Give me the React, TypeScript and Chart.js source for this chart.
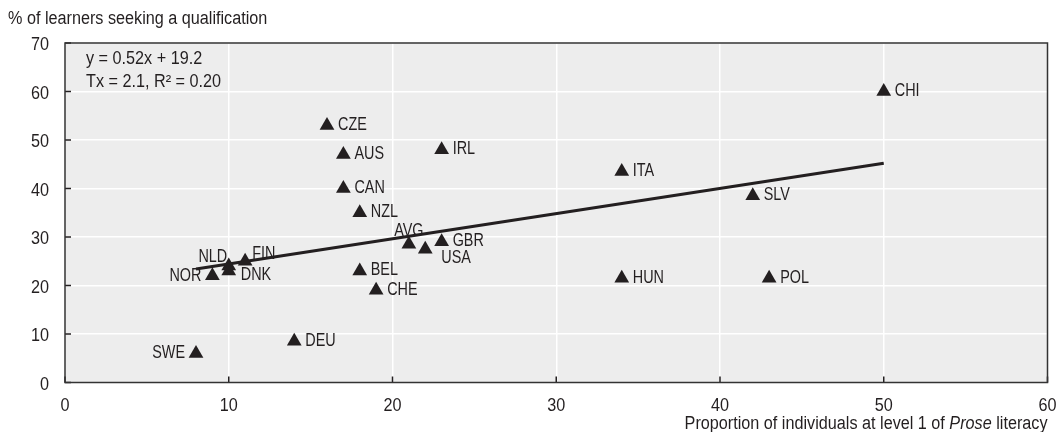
import React, { useEffect, useRef } from "react";
import { Chart, registerables } from "chart.js";

Chart.register(...registerables);

const countries = ["SWE", "DEU", "NOR", "NLD", "DNK", "FIN", "BEL", "CHE", "CZE", "AUS", "CAN", "NZL", "IRL", "AVG", "USA", "GBR", "ITA", "HUN", "SLV", "POL", "CHI"];
const levelOneProse = [8, 14, 9, 10, 10, 11, 18, 19, 16, 17, 17, 18, 23, 21, 22, 23, 34, 34, 42, 43, 50];
const seekingQualification = [6, 8.5, 22, 24, 23, 25, 23, 19, 53, 47, 40, 35, 48, 28.5, 27.5, 29, 43.5, 21.5, 38.5, 21.5, 60];
const trendX = [8, 50];
const trendY = [23.4, 45.2];
const xTickValues = [0, 10, 20, 30, 40, 50, 60];
const yTickValues = [0, 10, 20, 30, 40, 50, 60, 70];
const equationLines = ["y = 0.52x + 19.2", "Tx = 2.1, R² = 0.20"];
const yTitle = "% of learners seeking a qualification";
const xTitleParts = [
  { text: "Proportion of individuals at level 1 of ", italic: false },
  { text: "Prose", italic: true },
  { text: " literacy", italic: false },
];

const FONT = '"Liberation Sans", Arial, sans-serif';
const INK = "#231f20";
const CAP = 6.5; // half cap height at 18px

// label placement (style only): dx, dy (cap centre), align
const labelPlacement: Record<string, [number, number, CanvasTextAlign]> = {
  SWE: [-11, -2, "right"],
  NOR: [-11, -1, "right"],
  NLD: [-1.5, -11, "right"],
  DNK: [12, 3, "left"],
  FIN: [7, -9, "left"],
  AVG: [0, -15, "center"],
  USA: [16, 7, "left"],
  GBR: [11, -2, "left"],
};

function drawText(
  ctx: CanvasRenderingContext2D,
  text: string,
  x: number,
  y: number,
  align: CanvasTextAlign,
  sx: number,
  italic = false
) {
  ctx.save();
  ctx.font = `${italic ? "italic " : ""}18px ${FONT}`;
  ctx.textAlign = align;
  ctx.textBaseline = "alphabetic";
  ctx.translate(x, y);
  ctx.scale(sx, 1);
  ctx.fillText(text, 0, 0);
  ctx.restore();
}

function textWidth(ctx: CanvasRenderingContext2D, text: string, sx: number, italic = false) {
  ctx.save();
  ctx.font = `${italic ? "italic " : ""}18px ${FONT}`;
  const w = ctx.measureText(text).width * sx;
  ctx.restore();
  return w;
}

const SX_TEXT = 0.9;
const SX_LABEL = 0.8;

const decorPlugin = {
  id: "decor",
  beforeDraw(chart: any) {
    const { ctx, chartArea: a } = chart;
    ctx.save();
    ctx.fillStyle = "#ededed";
    ctx.fillRect(a.left, a.top, a.right - a.left, a.bottom - a.top);
    ctx.restore();
  },
  afterDraw(chart: any) {
    const { ctx, chartArea: a } = chart;
    const xs = chart.scales.x;
    const ys = chart.scales.y;
    ctx.save();
    ctx.fillStyle = INK;
    // inward ticks
    ctx.strokeStyle = INK;
    ctx.lineWidth = 1.5;
    xTickValues.forEach((v) => {
      const px = xs.getPixelForValue(v);
      ctx.beginPath();
      ctx.moveTo(px, a.bottom);
      ctx.lineTo(px, a.bottom - 6);
      ctx.stroke();
      drawText(ctx, String(v), px, a.bottom + 28, "center", SX_TEXT);
    });
    yTickValues.forEach((v) => {
      const py = ys.getPixelForValue(v);
      ctx.beginPath();
      ctx.moveTo(a.left, py);
      ctx.lineTo(a.left + 6, py);
      ctx.stroke();
      drawText(ctx, String(v), 49, py + CAP + 0.5, "right", SX_TEXT);
    });
    // frame
    ctx.strokeStyle = "#333333";
    ctx.lineWidth = 1.5;
    ctx.strokeRect(a.left, a.top, a.right - a.left, a.bottom - a.top);

    // point labels
    countries.forEach((c, i) => {
      const px = xs.getPixelForValue(levelOneProse[i]);
      const py = ys.getPixelForValue(seekingQualification[i]);
      const [dx, dy, align] = labelPlacement[c] || [11, -2, "left"];
      drawText(ctx, c, px + dx, py + dy + CAP, align, SX_LABEL);
    });

    // equation
    drawText(ctx, equationLines[0], 86, 64, "left", SX_TEXT);
    drawText(ctx, equationLines[1], 86, 87, "left", SX_TEXT);

    // y title
    drawText(ctx, yTitle, 8, 24, "left", SX_TEXT);

    // x title (right aligned, with italic segment)
    const widths = xTitleParts.map((p) => textWidth(ctx, p.text, SX_TEXT, p.italic));
    const total = widths.reduce((s, w) => s + w, 0);
    let x = 1047.5 - total;
    xTitleParts.forEach((p, i) => {
      drawText(ctx, p.text, x, 429, "left", SX_TEXT, p.italic);
      x += widths[i];
    });
    ctx.restore();
  },
};

export default function App() {
  const ref = useRef<HTMLCanvasElement>(null);
  useEffect(() => {
    document.body.style.margin = "0";
    const canvas = ref.current!;
    const chart = new Chart(canvas, {
      type: "scatter",
      data: {
        datasets: [
          {
            type: "scatter",
            data: countries.map((_, i) => ({ x: levelOneProse[i], y: seekingQualification[i] })),
            pointStyle: "triangle",
            pointRadius: 8.5,
            pointHoverRadius: 8.5,
            backgroundColor: INK,
            borderWidth: 0,
            order: 1,
          },
          {
            type: "line",
            data: trendX.map((x, i) => ({ x, y: trendY[i] })),
            borderColor: INK,
            borderWidth: 3,
            pointRadius: 0,
            fill: false,
            order: 2,
          } as any,
        ],
      },
      options: {
        animation: false,
        responsive: false,
        layout: { padding: { top: 43, right: 11.5, left: 0, bottom: 0 } },
        plugins: { legend: { display: false }, tooltip: { enabled: false }, title: { display: false } },
        scales: {
          x: {
            type: "linear",
            min: 0,
            max: 60,
            ticks: { stepSize: 10, display: false },
            grid: { color: "#ffffff", lineWidth: 1.5, drawTicks: false },
            border: { display: false },
            afterFit: (s: any) => {
              s.height = 49.5;
            },
          },
          y: {
            type: "linear",
            min: 0,
            max: 70,
            ticks: { stepSize: 10, display: false },
            grid: { color: "#ffffff", lineWidth: 1.5, drawTicks: false },
            border: { display: false },
            afterFit: (s: any) => {
              s.width = 65;
            },
          },
        },
      },
      plugins: [decorPlugin],
    });
    return () => chart.destroy();
  }, []);
  return (
    <div style={{ width: 1059, height: 432, background: "#fff" }}>
      <canvas ref={ref} width={1059} height={432} />
    </div>
  );
}
